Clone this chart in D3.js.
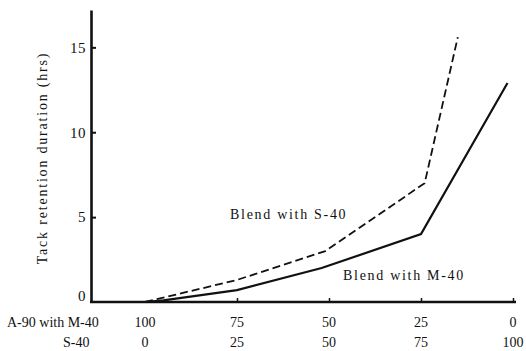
<!DOCTYPE html>
<html>
<head>
<meta charset="utf-8">
<script src="https://cdn.jsdelivr.net/npm/d3@7"></script>
<style>
	body { margin: 0; background: #fff; }
	text { font-family: "Liberation Serif", "DejaVu Serif", serif; fill: #111; }
</style>
</head>
<body>
<svg id="chart"></svg>
<script>
// S-40 share (%) on x; A-90 share is 100 - S-40
var s40Ticks = [0, 25, 50, 75, 100]
var a90Ticks = [100, 75, 50, 25, 0]
var yTicks = [0, 5, 10, 15]

// Blend with M-40 (solid)
var m40X = [0, 5, 25, 48, 75, 98.5]
var m40Y = [0, 0.1, 0.7, 2.0, 4.0, 12.9]

// Blend with S-40 (dashed)
var s40X = [0, 25, 49, 76, 85]
var s40Y = [0, 1.3, 3.0, 7.0, 15.6]

var dim = { width: 526, height: 351 }

var svg = d3.select('#chart')
	.attr('width', dim.width)
	.attr('height', dim.height)

var x = d3.scaleLinear().domain([0, 100]).range([145, 513])
var y = d3.scaleLinear().domain([0, 17.2]).range([302, 10])

// y axis
var yAxis = svg.append('g')
	.attr('transform', 'translate(91,0)')
	.call(d3.axisLeft(y).tickValues(yTicks).tickSize(-5).tickPadding(5).tickSizeOuter(0))
yAxis.select('.domain').attr('stroke', '#111').attr('stroke-width', 2.6)
yAxis.selectAll('.tick line').attr('stroke', '#111').attr('stroke-width', 2)
yAxis.selectAll('.tick text').attr('font-size', 15)
	.style('font-family', '"Liberation Serif", serif')
	.style('letter-spacing', '0.5px')
	.attr('dy', d => d === 0 ? '-0.1em' : '0.32em')
yAxis.selectAll('.tick').filter(d => d === 0).select('line').remove()

// x axis
var xAxis = svg.append('g')
	.attr('transform', 'translate(0,' + y(0) + ')')
	.call(d3.axisBottom(x).tickValues([25, 50, 75, 100]).tickSize(-4).tickFormat(''))
xAxis.select('.domain').remove()
xAxis.selectAll('.tick line').attr('stroke', '#111').attr('stroke-width', 1.5)
svg.append('line')
	.attr('x1', 90).attr('x2', x(100) + 3)
	.attr('y1', y(0)).attr('y2', y(0))
	.attr('stroke', '#111').attr('stroke-width', 2.4)

// two rows of x labels
svg.append('text').attr('x', 7).attr('y', 327).attr('font-size', 14).text('A-90 with M-40')
svg.append('text').attr('x', 63).attr('y', 347).attr('font-size', 14).text('S-40')
svg.selectAll('.a90lab').data(s40Ticks).enter().append('text')
	.attr('class', 'a90lab')
	.attr('x', d => x(d)).attr('y', 327)
	.attr('text-anchor', 'middle').attr('font-size', 14)
	.text((d, i) => a90Ticks[i])
svg.selectAll('.s40lab').data(s40Ticks).enter().append('text')
	.attr('class', 's40lab')
	.attr('x', d => x(d)).attr('y', 347)
	.attr('text-anchor', 'middle').attr('font-size', 14)
	.text(d => d)

// y label
svg.append('text')
	.attr('transform', 'translate(47,158) rotate(-90)')
	.attr('text-anchor', 'middle')
	.attr('font-size', 14)
	.style('letter-spacing', '1.8px')
	.text('Tack retention duration (hrs)')

var line = d3.line().x(d => x(d[0])).y(d => y(d[1]))

svg.append('path')
	.datum(m40X.map((v, i) => [v, m40Y[i]]))
	.attr('d', line)
	.attr('fill', 'none').attr('stroke', '#111').attr('stroke-width', 2.2)

svg.append('path')
	.datum(s40X.map((v, i) => [v, s40Y[i]]))
	.attr('d', line)
	.attr('fill', 'none').attr('stroke', '#111').attr('stroke-width', 1.8)
	.attr('stroke-dasharray', '8,4')

svg.append('text').attr('x', 230).attr('y', 219).attr('font-size', 14)
	.style('letter-spacing', '1.7px').text('Blend with S-40')
svg.append('text').attr('x', 343).attr('y', 280).attr('font-size', 14)
	.style('letter-spacing', '1.7px').text('Blend with M-40')
</script>
</body>
</html>
